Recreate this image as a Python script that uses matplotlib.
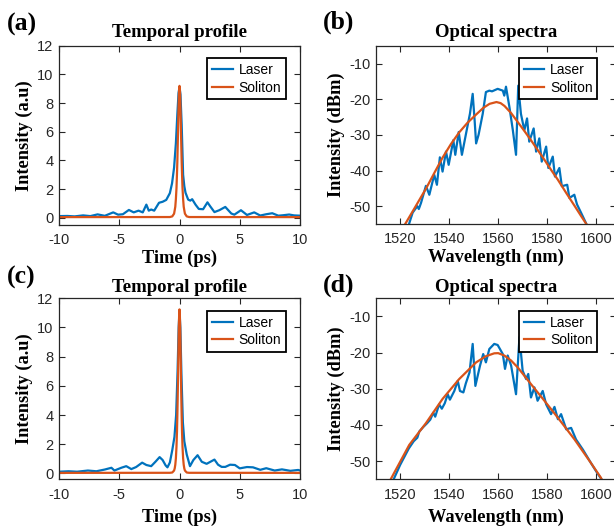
import matplotlib
matplotlib.use('Agg')
import matplotlib.pyplot as plt

plt.rcParams['axes.unicode_minus'] = False

W, H = 614, 527
BLUE = '#0072BD'
ORANGE = '#D95319'
DARK = '#262626'
SERIF = 'Liberation Serif'
SANS = 'Liberation Sans'

# (a) temporal profile, first case
t_laser_a = [-10, -9.3, -8.7, -8.0, -7.4, -6.8, -6.2, -5.5, -5.1, -4.7, -4.2, -3.8, -3.4,
             -3.05, -2.75, -2.55, -2.35, -2.1, -1.7, -1.4, -1.1, -0.8, -0.62, -0.45, -0.3,
             -0.18, -0.08, 0, 0.08, 0.18, 0.3, 0.4, 0.5, 0.72, 0.9, 1.05, 1.33, 1.6, 1.96,
             2.32, 2.55, 2.9, 3.3, 3.8, 4.3, 4.55, 5.1, 5.6, 6.2, 6.7, 7.2, 7.7, 8.2, 8.6,
             9.1, 9.5, 10]
i_laser_a = [0.12, 0.13, 0.1, 0.17, 0.12, 0.24, 0.14, 0.38, 0.22, 0.25, 0.55, 0.38, 0.5,
             0.38, 0.92, 0.5, 0.58, 0.5, 1.05, 1.12, 1.25, 1.72, 2.4, 3.5, 5.2,
             7.2, 8.7, 9.1, 8.6, 6.5, 3.0, 2.2, 1.75, 1.27, 1.2, 1.3, 0.92, 0.62, 0.6,
             1.08, 0.8, 0.4, 0.53, 0.76, 0.3, 0.22, 0.53, 0.2, 0.38, 0.16, 0.25, 0.32, 0.15, 0.18,
             0.23, 0.17, 0.15]
t_sol_a = [-10, -0.8, -0.6, -0.45, -0.4, -0.35, -0.3, -0.25, -0.21, -0.18, -0.15, -0.12, -0.09,
           -0.06, -0.03, 0, 0.03, 0.06, 0.09, 0.12, 0.15, 0.18, 0.21, 0.25, 0.3, 0.35, 0.4,
           0.45, 0.6, 0.8, 10]
i_sol_a = [0.05, 0.055, 0.1, 0.29, 0.52, 0.77, 1.31, 2.08, 3.05, 3.89, 4.99, 6.1, 7.29,
           8.31, 9.0, 9.2, 9.0, 8.31, 7.29, 6.1, 4.99, 3.89, 3.05, 2.08, 1.31, 0.77, 0.52,
           0.29, 0.1, 0.055, 0.05]

# (b) optical spectra, first case
wl_laser_b = [1523.0, 1523.7, 1525.1, 1527.0, 1527.6, 1528.5, 1530.5, 1531.9, 1533.9, 1535.0,
              1536.2, 1537.3, 1538.7, 1539.8, 1541.7, 1542.5, 1543.9, 1545.2, 1546.9, 1548.5,
              1549.6, 1550.4, 1551.0, 1552.0, 1553.7, 1555.0, 1556.4, 1557.5, 1559.8, 1561.9,
              1562.5, 1563.2, 1564.6, 1566.0, 1567.3, 1568.2, 1569.3, 1570.7, 1571.8, 1572.7,
              1574.5, 1575.5, 1576.8, 1577.8, 1579.6, 1580.5, 1582.3, 1583.2, 1585.0, 1586.0,
              1588.2, 1589.1, 1591.1, 1592.2, 1593.9, 1595.9, 1597.0]
db_laser_b = [-57.0, -54.8, -51.8, -50.0, -50.8, -49.1, -44.3, -46.8, -41.2, -44.0,
              -36.3, -40.3, -34.7, -38.4, -31.5, -35.6, -29.2, -35.6, -29.6, -24.0,
              -18.5, -26.0, -32.4, -30.0, -24.1, -18.0, -17.6, -17.8, -17.1, -17.6,
              -19.0, -16.5, -22.2, -28.7, -35.6, -16.2, -24.1, -28.7, -25.4, -31.9,
              -28.2, -34.7, -31.0, -37.5, -33.3, -39.3, -36.1, -41.7, -39.3, -44.4,
              -44.0, -47.7, -46.8, -49.5, -51.9, -54.8, -57.0]
wl_sol_b = [1521.0, 1522.05, 1526.0, 1530.6, 1534.0, 1537.3, 1540.7, 1544.1, 1547.5, 1551.0,
            1554.0, 1556.5, 1559.3, 1561.0, 1562.6, 1565.3, 1568.0, 1570.7, 1573.4, 1576.1,
            1578.9, 1581.6, 1584.4, 1587.8, 1591.2, 1594.0, 1596.0, 1597.0]
db_sol_b = [-56.2, -55.0, -50.4, -45.0, -40.6, -36.4, -32.6, -29.3, -26.6, -24.3,
            -22.4, -21.3, -20.8, -21.1, -21.9, -23.9, -26.4, -28.9, -31.5, -34.2,
            -37.0, -39.8, -42.6, -46.3, -49.9, -52.9, -55.0, -56.0]

# (c) temporal profile, second case
t_laser_c = [-10, -9.2, -8.5, -7.6, -6.9, -6.2, -5.65, -5.4, -4.83, -4.42, -4.0, -3.6, -3.1,
             -2.75, -2.35, -2.0, -1.65, -1.4, -1.15, -1.0, -0.8, -0.6, -0.42, -0.28, -0.16,
             -0.07, 0, 0.07, 0.16, 0.28, 0.4, 0.6, 0.87, 1.15, 1.5, 1.85, 2.25, 2.9, 3.2,
             3.5, 3.8, 4.2, 4.6, 5.0, 5.6, 6.1, 6.7, 7.2, 7.9, 8.5, 9.2, 9.85, 10]
i_laser_c = [0.12, 0.15, 0.12, 0.2, 0.15, 0.27, 0.39, 0.2, 0.39, 0.5, 0.3, 0.44, 0.74,
             0.58, 0.5, 0.8, 1.12, 0.92, 0.55, 0.42, 0.75, 1.6, 2.5, 4.0, 7.0,
             10.0, 11.1, 10.0, 6.8, 3.5, 2.2, 1.3, 0.5, 0.92, 1.25, 0.8, 0.66, 0.95, 0.6,
             0.45, 0.45, 0.6, 0.58, 0.35, 0.44, 0.42, 0.25, 0.36, 0.2, 0.28, 0.18, 0.24, 0.2]
t_sol_c = [-10, -0.8, -0.6, -0.45, -0.4, -0.35, -0.3, -0.25, -0.21, -0.18, -0.15, -0.12, -0.09,
           -0.06, -0.03, 0, 0.03, 0.06, 0.09, 0.12, 0.15, 0.18, 0.21, 0.25, 0.3, 0.35, 0.4,
           0.45, 0.6, 0.8, 10]
i_sol_c = [0.04, 0.045, 0.065, 0.2, 0.34, 0.59, 1.04, 1.84, 2.85, 3.9, 5.2, 6.72, 8.33,
           9.81, 10.85, 11.24, 10.85, 9.81, 8.33, 6.72, 5.2, 3.9, 2.85, 1.84, 1.04, 0.59, 0.34,
           0.2, 0.065, 0.045, 0.04]

# (d) optical spectra, second case
wl_laser_d = [1516.5, 1517.0, 1520.0, 1523.5, 1525.5, 1527.0, 1527.8, 1529.5, 1531.0, 1532.3,
              1533.5, 1534.3, 1535.9, 1537.0, 1538.2, 1539.4, 1540.3, 1542.1, 1543.5, 1544.4,
              1545.8, 1546.8, 1548.3, 1549.6, 1550.7, 1552.6, 1553.9, 1555.0, 1556.4, 1558.4,
              1559.8, 1561.9, 1562.8, 1563.9, 1565.3, 1567.3, 1568.7, 1570.0, 1571.4, 1572.3,
              1573.4, 1574.8, 1576.1, 1578.2, 1579.6, 1581.6, 1583.0, 1584.4, 1585.7, 1587.8,
              1589.8, 1591.8, 1594.6, 1597.9, 1600.5, 1602.7, 1603.5]
db_laser_d = [-56.0, -55.5, -51.0, -46.5, -44.5, -43.5, -41.8, -40.5, -39.5, -38.5,
              -36.6, -37.7, -34.3, -35.5, -34.0, -31.5, -33.0, -30.6, -27.8, -30.6,
              -31.0, -28.5, -25.5, -17.6, -29.2, -23.6, -20.4, -22.7, -19.0, -17.6,
              -17.9, -20.4, -24.5, -20.8, -23.6, -31.5, -15.7, -25.0, -27.3, -25.9,
              -32.4, -29.6, -33.3, -30.6, -34.3, -37.0, -35.0, -38.4, -37.0, -41.2,
              -40.8, -44.0, -46.8, -50.5, -53.3, -55.5, -57.0]
wl_sol_d = [1515.5, 1516.2, 1523.7, 1530.5, 1537.3, 1544.1, 1551.0, 1555.0, 1558.4, 1560.0,
            1562.5, 1565.3, 1568.0, 1573.4, 1578.9, 1584.4, 1591.2, 1597.9, 1602.0, 1602.6]
db_sol_d = [-56.0, -54.9, -45.5, -39.5, -32.8, -27.3, -22.7, -21.0, -20.2, -20.15,
            -20.8, -22.2, -24.1, -28.7, -33.3, -38.0, -44.0, -50.5, -54.6, -55.5]


def px_box(left, right, top, bottom):
    return [left / W, 1 - bottom / H, (right - left) / W, (bottom - top) / H]


def style_axes(ax, title, xlabel, ylabel, title_pad, xlabel_pad):
    ax.tick_params(direction='in', top=True, right=True, length=4, width=0.8,
                   colors=DARK, labelsize=10.5)
    ax.tick_params(axis='x', pad=6)
    ax.tick_params(axis='y', pad=4)
    for lab in ax.get_xticklabels() + ax.get_yticklabels():
        lab.set_fontfamily(SANS)
    for sp in ax.spines.values():
        sp.set_color(DARK)
        sp.set_linewidth(0.9)
    ax.set_title(title, fontfamily=SERIF, fontweight='bold', fontsize=13.5, pad=title_pad)
    ax.set_xlabel(xlabel, fontfamily=SERIF, fontweight='bold', fontsize=13.2, labelpad=xlabel_pad)
    ax.set_ylabel(ylabel, fontfamily=SERIF, fontweight='bold', fontsize=13.2, labelpad=3)


def add_legend(ax, anchor):
    leg = ax.legend(loc='upper right', bbox_to_anchor=anchor, borderaxespad=0,
                    fancybox=False, framealpha=1, edgecolor='black',
                    prop={'family': SANS, 'size': 10}, handlelength=1.5,
                    handletextpad=0.4, labelspacing=0.25, borderpad=0.35)
    leg.get_frame().set_linewidth(1.3)


def temporal(ax, t_l, i_l, t_s, i_s, ylow, title_pad, xlabel_pad):
    ax.plot(t_l, i_l, color=BLUE, lw=1.6, label='Laser')
    ax.plot(t_s, i_s, color=ORANGE, lw=1.6, label='Soliton')
    ax.set_xlim(-10, 10)
    ax.set_ylim(ylow, 12)
    ax.set_xticks([-10, -5, 0, 5, 10])
    ax.set_yticks([0, 2, 4, 6, 8, 10, 12])
    style_axes(ax, 'Temporal profile', 'Time (ps)', 'Intensity (a.u)', title_pad, xlabel_pad)
    add_legend(ax, (0.942, 0.93))


def spectra(ax, wl_l, db_l, wl_s, db_s, title_pad, xlabel_pad):
    ax.plot(wl_l, db_l, color=BLUE, lw=1.6, label='Laser')
    ax.plot(wl_s, db_s, color=ORANGE, lw=1.6, label='Soliton')
    ax.set_xlim(1510, 1608)
    ax.set_ylim(-55, -5)
    ax.set_xticks([1520, 1540, 1560, 1580, 1600])
    ax.set_yticks([-50, -40, -30, -20, -10])
    style_axes(ax, 'Optical spectra', 'Wavelength (nm)', 'Intensity (dBm)', title_pad, xlabel_pad)
    add_legend(ax, (0.924, 0.93))


fig = plt.figure(figsize=(W / 100, H / 100), dpi=100)
ax_a = fig.add_axes(px_box(59, 300, 45.7, 225))
ax_b = fig.add_axes(px_box(375.7, 615.7, 45.7, 224))
ax_c = fig.add_axes(px_box(59, 300, 298.3, 479.3))
ax_d = fig.add_axes(px_box(375.7, 615.7, 298.3, 479.3))

temporal(ax_a, t_laser_a, i_laser_a, t_sol_a, i_sol_a, -0.5, 6.5, 2)
spectra(ax_b, wl_laser_b, db_laser_b, wl_sol_b, db_sol_b, 6.5, 2)
temporal(ax_c, t_laser_c, i_laser_c, t_sol_c, i_sol_c, -0.4, 4.8, 5)
spectra(ax_d, wl_laser_d, db_laser_d, wl_sol_d, db_sol_d, 4.8, 5)

for label, x, y in [('(a)', 6.7, 24), ('(b)', 323.3, 22.5), ('(c)', 6.7, 277.5), ('(d)', 323.3, 285)]:
    fig.text(x / W, 1 - y / H, label, fontfamily=SERIF, fontweight='bold', fontsize=18.5,
             ha='left', va='center')

fig.savefig('out.png', dpi=100)
